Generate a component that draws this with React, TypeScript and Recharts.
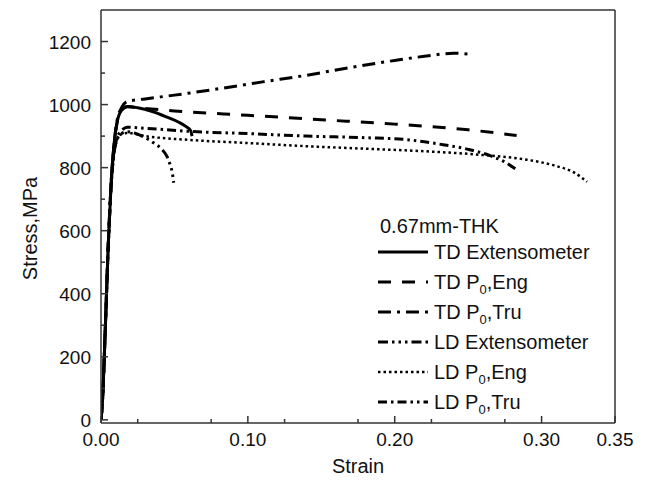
import { LineChart, Line, XAxis, YAxis, ReferenceLine } from "recharts";

const FONT = "'Liberation Sans', Arial, sans-serif";

// strain / stress
const tdExtStrain = [0, 0.001, 0.003, 0.005, 0.007, 0.009, 0.011, 0.014, 0.018, 0.025, 0.035, 0.045, 0.053, 0.058, 0.061, 0.062];
const tdExtStress = [0, 60, 300, 560, 760, 880, 945, 982, 994, 990, 978, 960, 944, 930, 918, 900];

const tdEngStrain = [0, 0.001, 0.003, 0.005, 0.007, 0.009, 0.011, 0.014, 0.018, 0.025, 0.05, 0.1, 0.15, 0.2, 0.25, 0.283];
const tdEngStress = [0, 60, 300, 560, 760, 880, 945, 982, 993, 990, 980, 966, 952, 938, 920, 902];

const tdTruStrain = [0, 0.001, 0.003, 0.005, 0.007, 0.009, 0.011, 0.014, 0.018, 0.03, 0.05, 0.08, 0.11, 0.14, 0.17, 0.2, 0.225, 0.24, 0.25];
const tdTruStress = [0, 60, 300, 560, 760, 880, 950, 990, 1010, 1018, 1030, 1050, 1072, 1093, 1118, 1140, 1156, 1163, 1160];

const ldExtStrain = [0, 0.001, 0.003, 0.005, 0.007, 0.009, 0.011, 0.014, 0.018, 0.024, 0.03, 0.036, 0.041, 0.045, 0.047, 0.0485, 0.0495];
const ldExtStress = [0, 60, 300, 560, 750, 850, 890, 908, 914, 908, 895, 878, 860, 835, 810, 785, 752];

const ldEngStrain = [0, 0.001, 0.003, 0.005, 0.007, 0.009, 0.011, 0.014, 0.018, 0.03, 0.06, 0.1, 0.14, 0.18, 0.22, 0.26, 0.29, 0.31, 0.322, 0.331];
const ldEngStress = [0, 60, 300, 560, 750, 850, 890, 906, 910, 900, 888, 878, 868, 860, 852, 840, 825, 805, 785, 755];

const ldTruStrain = [0, 0.001, 0.003, 0.005, 0.007, 0.009, 0.011, 0.014, 0.018, 0.03, 0.06, 0.1, 0.14, 0.18, 0.21, 0.23, 0.25, 0.265, 0.276, 0.284];
const ldTruStress = [0, 60, 300, 560, 750, 850, 895, 918, 928, 925, 915, 908, 900, 895, 888, 875, 858, 838, 815, 790];

const xTicks = [0, 0.025, 0.05, 0.075, 0.1, 0.125, 0.15, 0.175, 0.2, 0.225, 0.25, 0.275, 0.3, 0.325, 0.35];
const yTicks = [0, 100, 200, 300, 400, 500, 600, 700, 800, 900, 1000, 1100, 1200];

const zip = (xs: number[], ys: number[]) => xs.map((x, i) => ({ x, y: ys[i] }));

const series = [
  { key: "tdExt", pre: "TD Extensometer", sub: "", post: "", data: zip(tdExtStrain, tdExtStress), dash: undefined, width: 3 },
  { key: "tdEng", pre: "TD P", sub: "0", post: ",Eng", data: zip(tdEngStrain, tdEngStress), dash: "13 11", width: 3 },
  { key: "tdTru", pre: "TD P", sub: "0", post: ",Tru", data: zip(tdTruStrain, tdTruStress), dash: "13 6 3 6", width: 3 },
  { key: "ldExt", pre: "LD Extensometer", sub: "", post: "", data: zip(ldExtStrain, ldExtStress), dash: "10 4 2.5 4 2.5 4 2.5 4", width: 3 },
  { key: "ldEng", pre: "LD P", sub: "0", post: ",Eng", data: zip(ldEngStrain, ldEngStress), dash: "2.5 3", width: 2.5 },
  { key: "ldTru", pre: "LD P", sub: "0", post: ",Tru", data: zip(ldTruStrain, ldTruStress), dash: "9 4 2.5 4 9 4 2.5 4 2.5 4", width: 3 },
];

const XTick = (props: any) => {
  const { x, y, payload } = props;
  const v = payload.value;
  const major = Math.round(v / 0.025) % 2 === 0;
  return (
    <g>
      <line x1={x} x2={x} y1={y} y2={y - (major ? 7 : 4)} stroke="#333" strokeWidth={1.5} />
      {major && (
        <text x={x} y={y + 23} textAnchor="middle" fontSize={19} fontFamily={FONT} fill="#111">
          {v.toFixed(2)}
        </text>
      )}
    </g>
  );
};

const YTick = (props: any) => {
  const { x, y, payload } = props;
  const v = payload.value;
  const major = v % 200 === 0;
  return (
    <g>
      <line x1={x} x2={x + (major ? 7 : 4)} y1={y} y2={y} stroke="#333" strokeWidth={1.5} />
      {major && (
        <text x={x - 10} y={y + 7} textAnchor="end" fontSize={19} fontFamily={FONT} fill="#111">
          {v}
        </text>
      )}
    </g>
  );
};

const LegendBox = () => (
  <svg width={240} height={225} style={{ position: "absolute", left: 370, top: 210, fontFamily: FONT }}>
    <text x={10} y={23} fontSize={20} fill="#111">0.67mm-THK</text>
    {series.map((s, i) => {
      const cy = 42 + i * 30;
      return (
        <g key={s.key}>
          <line x1={8} x2={58} y1={cy} y2={cy} stroke="#000" strokeWidth={s.width} strokeDasharray={s.dash} />
          <text x={64} y={cy + 7} fontSize={20} fill="#111">
            {s.pre}
            {s.sub && (
              <tspan fontSize={13} dy={5}>{s.sub}</tspan>
            )}
            {s.post && <tspan dy={s.sub ? -5 : 0}>{s.post}</tspan>}
          </text>
        </g>
      );
    })}
  </svg>
);

export default function App() {
  return (
    <div style={{ position: "absolute", left: 0, top: 0, width: 648, height: 488, background: "#fff" }}>
      <LineChart width={648} height={488} margin={{ top: 10, right: 33, bottom: 0, left: 0 }}>
        <XAxis
          type="number"
          dataKey="x"
          domain={[0, 0.35]}
          ticks={xTicks}
          allowDataOverflow
          height={65}
          tickSize={0}
          tickMargin={0}
          tickLine={false}
          tick={<XTick />}
          axisLine={{ stroke: "#333", strokeWidth: 1.5 }}
          label={{
            content: ({ viewBox }: any) => (
              <text x={viewBox.x + viewBox.width / 2} y={viewBox.y + 50} textAnchor="middle" fontSize={20} fontFamily={FONT} fill="#111">
                Strain
              </text>
            ),
          }}
        />
        <YAxis
          type="number"
          dataKey="y"
          domain={[-10, 1300]}
          ticks={yTicks}
          allowDataOverflow
          width={101}
          tickSize={0}
          tickMargin={0}
          tickLine={false}
          tick={<YTick />}
          axisLine={{ stroke: "#333", strokeWidth: 1.5 }}
          label={{
            content: ({ viewBox }: any) => (
              <text
                transform={`translate(30, ${viewBox.y + viewBox.height / 2 + 12}) rotate(-90)`}
                textAnchor="middle"
                dominantBaseline="central"
                fontSize={20}
                fontFamily={FONT}
                fill="#111"
              >
                Stress,MPa
              </text>
            ),
          }}
        />
        <ReferenceLine y={1300} stroke="#333" strokeWidth={1.5} />
        <ReferenceLine x={0.35} stroke="#333" strokeWidth={1.5} />
        {series.map((s) => (
          <Line
            key={s.key}
            data={s.data}
            dataKey="y"
            type="monotone"
            stroke="#000"
            strokeWidth={s.width}
            strokeDasharray={s.dash}
            dot={false}
            activeDot={false}
            isAnimationActive={false}
          />
        ))}
      </LineChart>
      <LegendBox />
    </div>
  );
}
